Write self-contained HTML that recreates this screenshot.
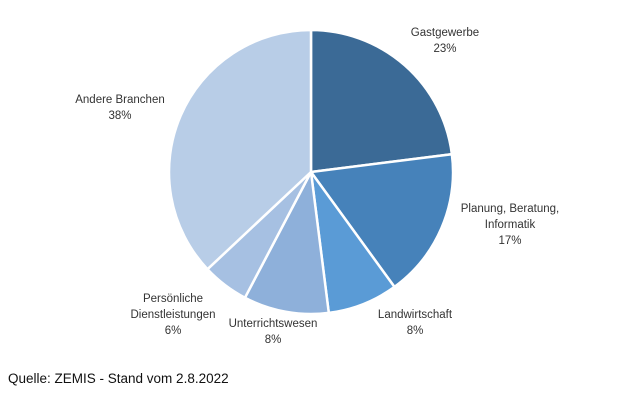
<!DOCTYPE html>
<html><head><meta charset="utf-8"><style>
body{margin:0;background:#fff;}
svg{display:block;font-family:"Liberation Sans",sans-serif;}
</style></head><body>
<svg id="chart" width="620" height="400">
<g id="slices"></g>
<g id="labels"></g>
<text x="8" y="383" font-size="13.5" fill="#111">Quelle: ZEMIS - Stand vom 2.8.2022</text>
</svg>
<script>
const categories = ["Gastgewerbe", "Planung, Beratung, Informatik", "Landwirtschaft", "Unterrichtswesen", "Persönliche Dienstleistungen", "Andere Branchen"];
const values = [23, 17, 8, 9.7, 5.3, 37];
const valueLabels = ["23%", "17%", "8%", "8%", "6%", "38%"];
const colors = ["#3b6a96", "#4682ba", "#5a9bd6", "#8eb0da", "#a6c0e2", "#b8cde7"];
const labelLines = [["Gastgewerbe"],["Planung, Beratung,","Informatik"],["Landwirtschaft"],["Unterrichtswesen"],["Persönliche","Dienstleistungen"],["Andere Branchen"]];
const labelPos = [[445,36],[510,212],[415,318],[273,327],[173,302],[120,103]];
const cx=311, cy=172, r=142;
const ns="http://www.w3.org/2000/svg";
const total=values.reduce((a,b)=>a+b,0);
function pt(a,rr){return [cx+rr*Math.sin(a), cy-rr*Math.cos(a)];}
let a0=0;
const gs=document.getElementById('slices'), gl=document.getElementById('labels');
values.forEach((v,i)=>{
  const a1=a0+v/total*2*Math.PI;
  const p0=pt(a0,r), p1=pt(a1,r);
  const large=(a1-a0)>Math.PI?1:0;
  const p=document.createElementNS(ns,'path');
  p.setAttribute('d',`M${cx},${cy}L${p0[0]},${p0[1]}A${r},${r} 0 ${large} 1 ${p1[0]},${p1[1]}Z`);
  p.setAttribute('fill',colors[i]);
  p.setAttribute('stroke','#fff');
  p.setAttribute('stroke-width','2.5');
  
  
  gs.appendChild(p);
  const t=document.createElementNS(ns,'text');
  
  
  t.setAttribute('text-anchor','middle');
  t.setAttribute('font-size','11.5');
  t.setAttribute('fill','#333');
  const lines=labelLines[i].concat([valueLabels[i]]);
  lines.forEach((s,j)=>{
    const ts=document.createElementNS(ns,'tspan');
    ts.setAttribute('x',labelPos[i][0]);
    ts.setAttribute('y',labelPos[i][1]+j*16);
    ts.textContent=s;
    t.appendChild(ts);
  });
  gl.appendChild(t);
  a0=a1;
});
</script>
</body></html>
